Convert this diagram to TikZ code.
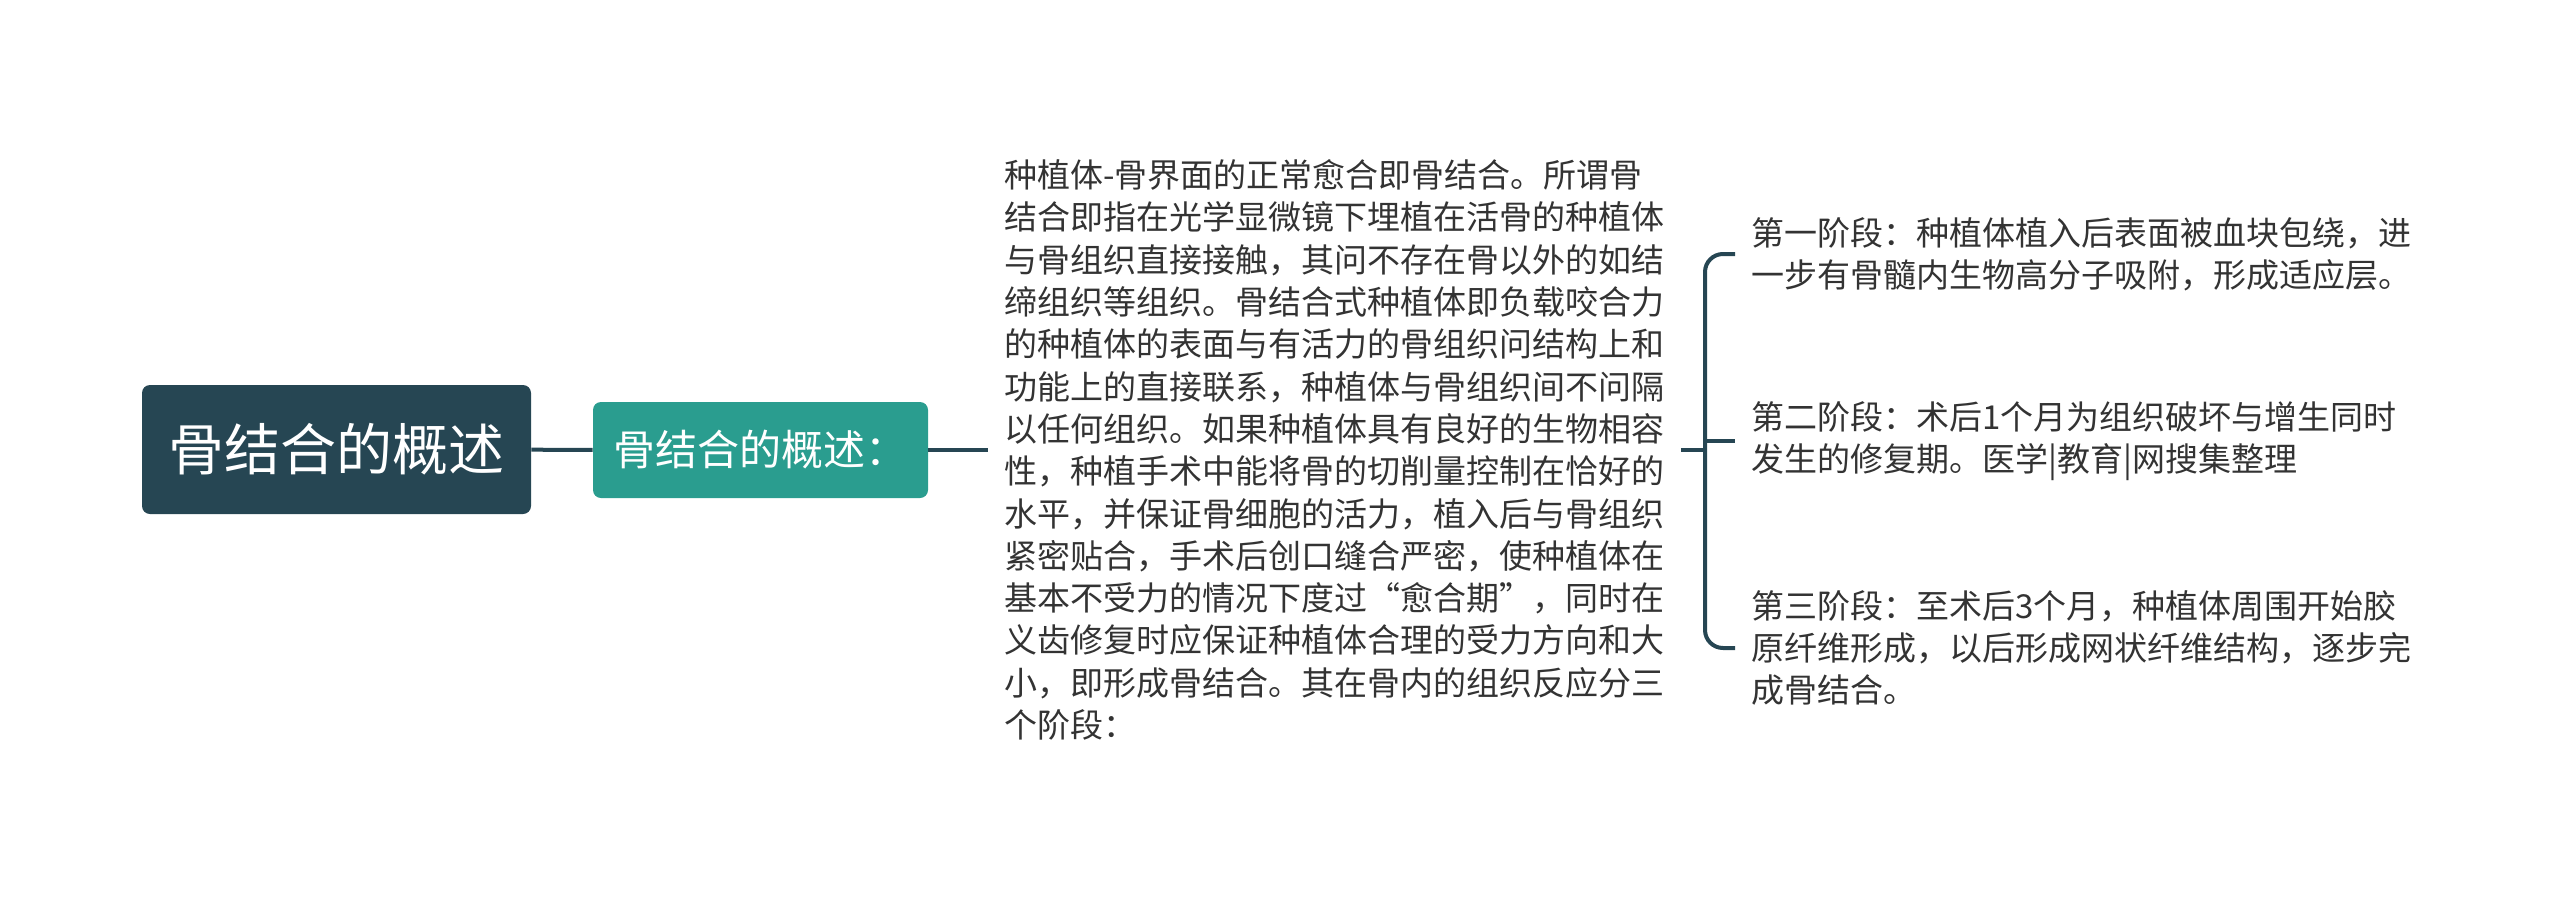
\documentclass[tikz,border=0pt]{standalone}
\usepackage{fontspec}
\setmainfont{Noto Sans CJK SC}
\usepackage{xcolor}
\usetikzlibrary{positioning, calc}
\definecolor{rootcol}{HTML}{264653}
\definecolor{subcol}{HTML}{2A9D8F}
\definecolor{txtcol}{HTML}{333333}

\begin{document}
\begin{tikzpicture}[x=0.5pt, y=-0.5pt,
    rootbox/.style={rectangle, rounded corners=4pt, fill=rootcol, text=white, minimum width=194.5pt, minimum height=64.5pt, font=\fontsize{28pt}{34pt}\selectfont},
    subbox/.style={rectangle, rounded corners=4pt, fill=subcol, text=white, minimum width=167.5pt, minimum height=48pt, font=\fontsize{21pt}{26pt}\selectfont},
    plaintext/.style={anchor=west, align=left, inner xsep=8pt, inner ysep=0pt, text=txtcol, font=\fontsize{16.5pt}{21.15pt}\selectfont},
    link/.style={draw=rootcol, line width=2pt}]
    % Khung
    \useasboundingbox (0,0) rectangle (2560,900);

    % Các nút chính
    \node[rootbox] (root) at (336.5,449.5) {骨结合的概述};
    \node[subbox] (sub) at (760.5,450) {骨结合的概述：};
    \node[plaintext] (desc) at (988,450) {种植体-骨界面的正常愈合即骨结合。所谓骨\\
结合即指在光学显微镜下埋植在活骨的种植体\\
与骨组织直接接触，其问不存在骨以外的如结\\
缔组织等组织。骨结合式种植体即负载咬合力\\
的种植体的表面与有活力的骨组织问结构上和\\
功能上的直接联系，种植体与骨组织间不问隔\\
以任何组织。如果种植体具有良好的生物相容\\
性，种植手术中能将骨的切削量控制在恰好的\\
水平，并保证骨细胞的活力，植入后与骨组织\\
紧密贴合，手术后创口缝合严密，使种植体在\\
基本不受力的情况下度过“愈合期”，同时在\\
义齿修复时应保证种植体合理的受力方向和大\\
小，即形成骨结合。其在骨内的组织反应分三\\
个阶段：};

    % Ba giai đoạn
    \node[plaintext] (stage1) at (1735,254) {第一阶段：种植体植入后表面被血块包绕，进\\一步有骨髓内生物高分子吸附，形成适应层。};
    \node[plaintext] (stage2) at (1735,441) {第二阶段：术后1个月为组织破坏与增生同时\\发生的修复期。医学|教育|网搜集整理};
    \node[plaintext] (stage3) at (1735,648) {第三阶段：至术后3个月，种植体周围开始胶\\原纤维形成，以后形成网状纤维结构，逐步完\\成骨结合。};

    % Đường nối
    \coordinate (brk) at (1705,450);
    \draw[link] (root) -- (sub);
    \draw[link] (sub.east) -- (desc.west);
    \draw[link] (desc.east) -- (brk);
    \draw[link, rounded corners=9pt] (stage1.west) -- (stage1.west -| brk) -- (stage3.west -| brk) -- (stage3.west);
    \draw[link] (stage2.west -| brk) -- (stage2.west);
\end{tikzpicture}
\end{document}
